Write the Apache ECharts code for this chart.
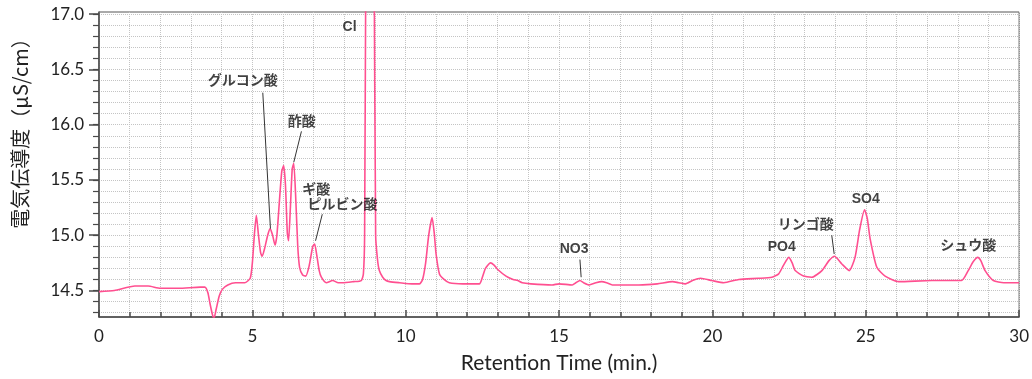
<!DOCTYPE html>
<html>
<head>
<meta charset="utf-8">
<script src="https://cdn.jsdelivr.net/npm/echarts@6/dist/echarts.min.js"></script>
<style>
  html, body { margin: 0; padding: 0; background: #fff; }
  #chart { width: 1032px; height: 379px; }
</style>
</head>
<body>
<div id="chart"></div>
<script>
// chromatogram trace
const retentionTime = [
  0.00, 0.50, 1.17, 1.60, 2.00, 2.60, 3.30, 3.45, 3.55, 3.62, 3.70, 3.75, 3.82, 3.92, 4.02, 4.20, 4.45, 4.75, 4.93,
  5.00, 5.07, 5.13, 5.20, 5.27, 5.32, 5.40, 5.50, 5.58, 5.66, 5.74, 5.80, 5.88, 5.96, 6.02, 6.08, 6.14, 6.18, 6.24,
  6.30, 6.35, 6.42, 6.48, 6.54, 6.64, 6.74, 6.85, 6.97, 7.03, 7.10, 7.18, 7.25, 7.41, 7.62, 7.80, 7.94, 8.30, 8.55,
  8.62, 8.66, 8.70, 8.83, 8.97, 9.02, 9.08, 9.14, 9.25, 9.36, 9.47, 9.80, 10.20, 10.45, 10.55, 10.65, 10.75, 10.86,
  10.93, 10.99, 11.10, 11.25, 11.42, 11.86, 12.40, 12.50, 12.60, 12.76, 12.88, 13.00, 13.27, 13.50, 13.65, 13.80,
  14.08, 14.77, 15.00, 15.43, 15.55, 15.68, 15.80, 15.98, 16.20, 16.39, 16.55, 16.74, 17.60, 18.20, 18.70, 18.90,
  19.12, 19.35, 19.61, 19.98, 20.37, 20.86, 21.50, 21.94, 22.16, 22.32, 22.49, 22.60, 22.70, 22.97, 23.24, 23.57,
  23.80, 23.98, 24.22, 24.46, 24.65, 24.80, 24.96, 25.05, 25.14, 25.36, 25.63, 26.07, 27.15, 28.12, 28.34, 28.50,
  28.65, 28.75, 28.89, 29.16, 29.50, 30.00
];
const conductivity = [
  14.49, 14.50, 14.54, 14.54, 14.52, 14.52, 14.53, 14.53, 14.48, 14.38, 14.28, 14.25, 14.33, 14.45, 14.51, 14.55, 14.57, 14.57, 14.61,
  14.75, 15.02, 15.18, 15.00, 14.84, 14.81, 14.88, 15.00, 15.06, 15.00, 14.91, 15.00, 15.30, 15.58, 15.63, 15.45, 15.02, 14.95, 15.25,
  15.60, 15.65, 15.30, 14.90, 14.71, 14.64, 14.63, 14.72, 14.90, 14.92, 14.82, 14.68, 14.62, 14.57, 14.59, 14.57, 14.57, 14.58, 14.59,
  14.65, 15.00, 17.50, 22.00, 17.50, 15.00, 14.78, 14.68, 14.62, 14.59, 14.58, 14.57, 14.56, 14.56, 14.60, 14.75, 15.00, 15.16,
  15.02, 14.83, 14.65, 14.60, 14.57, 14.56, 14.56, 14.62, 14.70, 14.75, 14.73, 14.69, 14.63, 14.60, 14.59, 14.57,
  14.56, 14.55, 14.56, 14.55, 14.57, 14.59, 14.57, 14.55, 14.57, 14.58, 14.57, 14.55, 14.55, 14.56, 14.58, 14.57,
  14.56, 14.59, 14.61, 14.59, 14.57, 14.60, 14.61, 14.62, 14.65, 14.73, 14.80, 14.75, 14.68, 14.63, 14.62, 14.68,
  14.77, 14.81, 14.74, 14.68, 14.80, 15.05, 15.23, 15.15, 14.97, 14.71, 14.63, 14.58, 14.59, 14.59, 14.68, 14.76,
  14.80, 14.77, 14.68, 14.59, 14.57, 14.57
];

// peak names and where their text sits
const peakNames = ['Cl', 'グルコン酸', '酢酸', 'ギ酸', 'ピルビン酸', 'NO3', 'PO4', 'リンゴ酸', 'SO4', 'シュウ酸'];
const labelTime = [8.17, 4.69, 6.61, 7.08, 7.94, 15.49, 22.26, 23.04, 25.00, 28.34];
const labelValue = [16.88, 16.39, 16.02, 15.41, 15.27, 14.87, 14.89, 15.09, 15.33, 14.90];

// leader lines: [time1, value1, time2, value2]
const leaders = [
  [5.34, 16.29, 5.59, 15.06],
  [6.60, 15.94, 6.35, 15.66],
  [7.28, 15.19, 7.06, 14.95],
  [15.68, 14.78, 15.72, 14.62],
  [23.89, 15.00, 23.97, 14.83]
];

// axis ticks
const xLabels = [0, 5, 10, 15, 20, 25, 30];
const yLabels = [14.5, 15.0, 15.5, 16.0, 16.5, 17.0];
const yTicks = [14.3, 14.4, 14.5, 14.6, 14.7, 14.8, 14.9, 15.0, 15.1, 15.2, 15.3, 15.4, 15.5, 15.6, 15.7, 15.8, 15.9,
  16.0, 16.1, 16.2, 16.3, 16.4, 16.5, 16.6, 16.7, 16.8, 16.9, 17.0];

const chart = echarts.init(document.getElementById('chart'));

const axisColor = '#4a4a4a';
const gridLine = { show: true, lineStyle: { color: '#c4c4c4', type: 'dotted', width: 1 } };
const fontLatin = "Lato, 'Noto Sans CJK JP', sans-serif";

const option = {
  animation: false,
  grid: { left: 99, right: 11, top: 12, bottom: 59, show: true, borderColor: '#555', borderWidth: 1 },
  xAxis: [{
    type: 'value',
    min: 0,
    max: 30,
    interval: 5,
    name: 'Retention Time (min.)',
    nameLocation: 'middle',
    nameGap: 36,
    nameTextStyle: { fontSize: 21, color: '#222', fontFamily: fontLatin },
    axisLine: { lineStyle: { color: axisColor, width: 1.5 } },
    axisTick: { inside: true, length: 7, lineStyle: { color: axisColor, width: 1.5 } },
    minorTick: { show: true, splitNumber: 5, length: 5, lineStyle: { color: axisColor, width: 1.5 } },
    axisLabel: { customValues: xLabels, fontSize: 17, color: '#222', margin: 11, fontFamily: fontLatin },
    splitLine: gridLine,
    minorSplitLine: gridLine
  }],
  yAxis: [{
    type: 'value',
    min: 14.26,
    max: 17.02,
    name: '電気伝導度（μS/cm）',
    nameLocation: 'middle',
    nameGap: 69,
    nameTextStyle: { fontSize: 20, color: '#222', fontFamily: "'Noto Sans CJK JP', sans-serif", padding: [0, 0, 0, 72] },
    axisLine: { show: true, lineStyle: { color: axisColor, width: 1.5 } },
    axisTick: { customValues: yTicks, length: 6, lineStyle: { color: axisColor, width: 1.2 } },
    axisLabel: { customValues: yLabels, formatter: v => v.toFixed(1), fontSize: 17, color: '#222', margin: 15, fontFamily: fontLatin },
    splitLine: gridLine
  }, {
    type: 'value',
    min: 14.26,
    max: 17.02,
    position: 'left',
    axisLine: { show: false },
    axisTick: { show: true, customValues: yLabels, length: 10, lineStyle: { color: axisColor, width: 1.5 } },
    axisLabel: { show: false },
    splitLine: { show: false }
  }],
  series: [{
    name: 'conductivity',
    type: 'line',
    data: retentionTime.map((t, i) => [t, conductivity[i]]),
    showSymbol: false,
    smooth: 0.2,
    clip: true,
    lineStyle: { color: '#ff4f90', width: 1.6 },
    z: 3
  }, {
    name: 'labels',
    type: 'scatter',
    symbolSize: 0,
    data: peakNames.map((n, i) => ({ name: n, value: [labelTime[i], labelValue[i]] })),
    label: {
      show: true,
      position: 'inside',
      formatter: p => p.name,
      fontSize: 14,
      color: '#111',
      fontWeight: 'bold',
      fontFamily: "'Liberation Sans', 'Noto Sans CJK JP', sans-serif"
    },
    markLine: {
      silent: true,
      symbol: 'none',
      label: { show: false },
      lineStyle: { color: '#333', width: 1, type: 'solid' },
      data: leaders.map(l => [{ coord: [l[0], l[1]] }, { coord: [l[2], l[3]] }])
    },
    z: 4
  }]
};

chart.setOption(option);
</script>
</body>
</html>
